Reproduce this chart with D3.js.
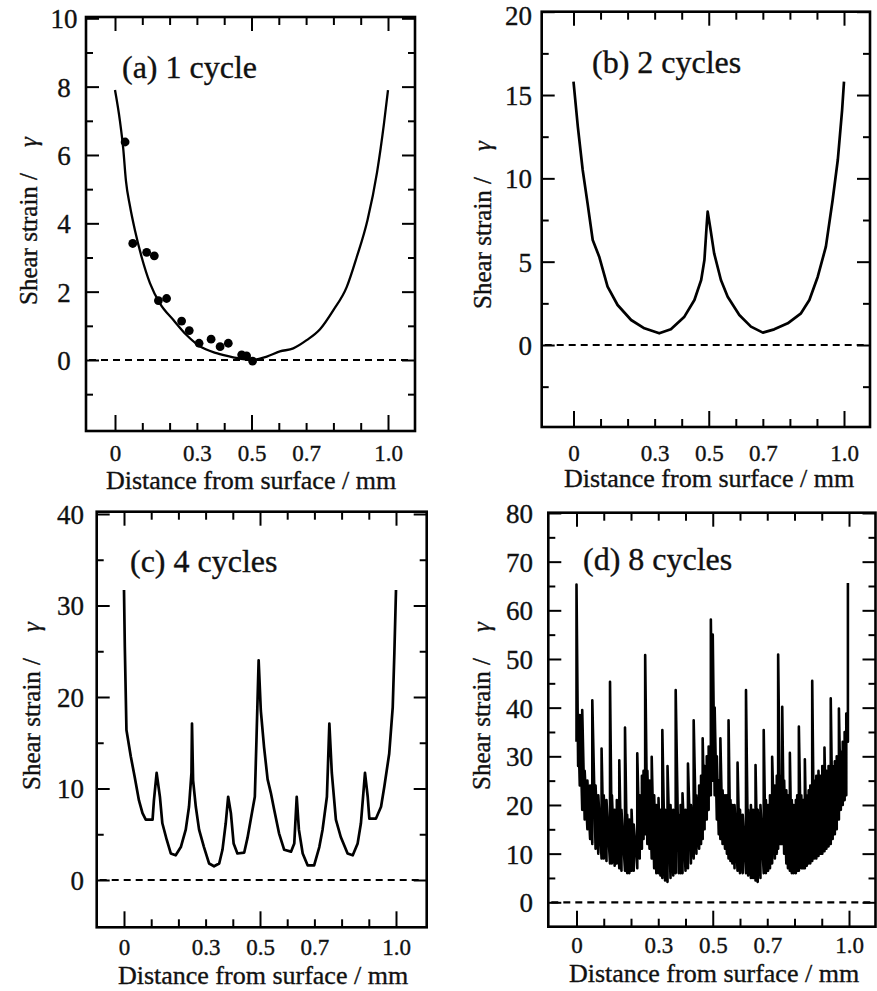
<!DOCTYPE html>
<html>
<head>
<meta charset="utf-8">
<script src="https://cdnjs.cloudflare.com/ajax/libs/d3/7.8.5/d3.min.js"></script>
<style>
body { margin: 0; background: #fff; }
svg text { font-family: "Liberation Serif", "Times New Roman", serif; fill: #111; stroke: #111; stroke-width: 0.35px; }
</style>
</head>
<body>
<div id="chart"></div>
<script>
// distance from surface (mm) vs shear strain
var xLabelTicks = [0, 0.3, 0.5, 0.7, 1.0];
var xMajorTicks = [0, 0.5, 1.0];
var xMinorTicks = [0.1, 0.2, 0.3, 0.4, 0.6, 0.7, 0.8, 0.9];

var cycle1Curve = [[0, 7.9], [0.018, 7.0], [0.03, 6.2], [0.04, 5.25], [0.055, 4.5], [0.073, 3.8],
  [0.098, 3.0], [0.128, 2.25], [0.165, 1.65], [0.214, 1.17], [0.262, 0.73], [0.311, 0.4],
  [0.372, 0.2], [0.433, 0.08], [0.5, 0.0], [0.556, 0.1], [0.604, 0.25], [0.653, 0.34],
  [0.702, 0.58], [0.751, 0.9], [0.8, 1.46], [0.849, 2.14], [0.885, 3.0], [0.925, 4.1],
  [0.96, 5.5], [0.985, 6.9], [1.0, 7.9]];
var cycle1Measured = [[0.037, 6.38], [0.065, 3.41], [0.116, 3.15], [0.144, 3.05], [0.159, 1.74],
  [0.189, 1.8], [0.244, 1.14], [0.272, 0.86], [0.308, 0.49], [0.352, 0.61], [0.385, 0.39],
  [0.415, 0.49], [0.464, 0.15], [0.482, 0.12], [0.504, -0.03]];

var cycle2Curve = [[0, 15.8], [0.016, 13.1], [0.034, 10.5], [0.052, 8.5], [0.071, 6.3], [0.095, 5.3],
  [0.126, 3.5], [0.163, 2.4], [0.213, 1.5], [0.262, 1.0], [0.317, 0.7], [0.36, 0.94], [0.41, 1.7],
  [0.447, 2.7], [0.472, 3.9], [0.484, 5.1], [0.492, 7.1], [0.496, 8.0], [0.505, 7.1], [0.52, 5.5],
  [0.545, 3.9], [0.57, 2.9], [0.613, 1.8], [0.656, 1.1], [0.7, 0.74], [0.742, 0.94], [0.792, 1.3],
  [0.841, 1.9], [0.872, 2.7], [0.903, 4.1], [0.933, 5.9], [0.958, 8.7], [0.977, 11.1],
  [0.993, 14.1], [1.0, 15.8]];

var cycle4Curve = [[0, 31.7], [0.003, 25.5], [0.009, 16.4], [0.025, 13.5], [0.039, 11.3], [0.055, 8.7],
  [0.068, 7.3], [0.08, 6.6], [0.105, 6.6], [0.11, 8.7], [0.12, 11.7], [0.132, 9.1], [0.141, 6.2],
  [0.157, 4.4], [0.172, 2.9], [0.19, 2.7], [0.209, 3.6], [0.227, 5.5], [0.239, 8.0], [0.248, 11.7],
  [0.25, 17.1], [0.254, 10.9], [0.264, 8.0], [0.276, 5.5], [0.294, 3.6], [0.313, 1.8], [0.331, 1.5],
  [0.35, 1.8], [0.362, 3.3], [0.374, 6.2], [0.383, 9.1], [0.393, 7.3], [0.403, 4.0], [0.417, 2.9],
  [0.442, 3.0], [0.454, 4.6], [0.466, 6.6], [0.481, 9.1], [0.487, 15.3], [0.495, 24.0],
  [0.503, 18.5], [0.515, 14.5], [0.528, 11.0], [0.54, 9.5], [0.552, 7.7], [0.57, 5.1], [0.589, 3.3],
  [0.614, 3.1], [0.626, 4.0], [0.635, 9.1], [0.643, 5.5], [0.657, 2.9], [0.675, 1.6], [0.699, 1.6],
  [0.718, 3.6], [0.73, 5.5], [0.746, 9.1], [0.755, 17.1], [0.764, 11.7], [0.779, 6.6], [0.797, 4.7],
  [0.822, 2.9], [0.841, 2.7], [0.859, 4.0], [0.871, 6.2], [0.886, 11.7], [0.896, 9.1], [0.902, 6.7],
  [0.926, 6.7], [0.945, 8.0], [0.957, 10.2], [0.975, 13.8], [0.988, 18.9], [0.994, 24.8], [1.0, 31.7]];

// 8 cycles: [x, trough, crest] for each oscillation of the noisy trace
var cycle8Profile = [[0, 33, 65.3], [0.006, 28, 38], [0.012, 24, 38.5], [0.021, 19, 39.5], [0.03, 17, 27],
  [0.04, 15, 25], [0.05, 13, 24], [0.058, 12, 41.5], [0.07, 11, 24], [0.08, 10, 22], [0.092, 9, 31.6],
  [0.1, 9, 22], [0.11, 8.5, 21], [0.123, 8, 45.3], [0.13, 8, 22], [0.14, 7.5, 19], [0.148, 8, 21],
  [0.157, 7, 29.2], [0.165, 6.5, 19], [0.178, 6.5, 35.9], [0.186, 6, 18], [0.194, 6, 17],
  [0.202, 6.5, 19], [0.21, 6.5, 16], [0.223, 7, 30.6], [0.232, 9, 22], [0.24, 11, 26], [0.246, 13, 27],
  [0.252, 14, 50.8], [0.26, 12, 27], [0.268, 11, 25], [0.276, 9, 29.9], [0.285, 7, 22], [0.293, 6, 20],
  [0.301, 6, 21.4], [0.308, 5.5, 19], [0.315, 5, 35.4], [0.325, 4.5, 19], [0.334, 4.2, 28],
  [0.345, 5, 20], [0.355, 5.5, 19], [0.364, 6, 43.6], [0.375, 6, 18], [0.382, 6, 20], [0.389, 6, 22.4],
  [0.4, 6.5, 19], [0.409, 7, 28.5], [0.42, 8, 20], [0.43, 9, 37.4], [0.44, 10, 22], [0.45, 11, 24],
  [0.457, 12, 26], [0.463, 13, 33.7], [0.47, 15, 28], [0.478, 17, 30], [0.485, 19, 32], [0.493, 22, 58.1],
  [0.5, 25, 55], [0.507, 22, 40], [0.515, 17, 30], [0.522, 14, 25], [0.528, 13, 33.7], [0.536, 12, 23],
  [0.545, 11, 22], [0.552, 10, 22], [0.558, 9, 37.4], [0.565, 8.5, 21], [0.572, 8, 20], [0.58, 7, 20],
  [0.591, 6.5, 28.7], [0.6, 6, 19], [0.61, 6, 18], [0.622, 6, 43.6], [0.63, 5.5, 19], [0.64, 5, 20],
  [0.648, 5, 19], [0.657, 4.5, 28.2], [0.665, 4.2, 19], [0.675, 5, 20], [0.687, 6, 35.4], [0.695, 6, 21],
  [0.703, 6.5, 20], [0.71, 7, 22], [0.718, 8, 29.9], [0.728, 9, 24], [0.735, 10, 26], [0.74, 11, 50.9],
  [0.748, 12, 26], [0.755, 12, 40.2], [0.762, 10, 25], [0.77, 8, 23], [0.776, 7, 22], [0.783, 6.5, 30.7],
  [0.79, 6, 21], [0.797, 6, 20], [0.805, 6, 21], [0.81, 6.5, 22], [0.816, 6.5, 36.1], [0.825, 7, 22],
  [0.832, 7, 21], [0.838, 7, 29.4], [0.845, 7.5, 22], [0.852, 8, 23], [0.858, 8, 24], [0.865, 8.5, 45.5],
  [0.872, 9, 25], [0.88, 9, 26], [0.888, 9.5, 27], [0.895, 10, 26], [0.902, 10, 28], [0.91, 10.5, 31.8],
  [0.917, 11, 27], [0.925, 11.5, 28], [0.933, 12, 41.9], [0.94, 13, 28], [0.948, 14, 29], [0.955, 15, 30],
  [0.963, 17, 39.8], [0.97, 19, 31], [0.977, 20, 33], [0.984, 21, 35], [0.99, 22, 38.8], [0.996, 33, 65.6]];

var yTicks1 = [0, 2, 4, 6, 8, 10], yMinor1 = [-1, 1, 3, 5, 7, 9];
var yTicks2 = [0, 5, 10, 15, 20], yMinor2 = [-2.5, 2.5, 7.5, 12.5, 17.5];
var yTicks4 = [0, 10, 20, 30, 40], yMinor4 = [5, 15, 25, 35];
var yTicks8 = [0, 10, 20, 30, 40, 50, 60, 70, 80], yMinor8 = [5, 15, 25, 35, 45, 55, 65, 75];

var titles = ["(a) 1 cycle", "(b) 2 cycles", "(c) 4 cycles", "(d) 8 cycles"];

var svg = d3.select("#chart").append("svg")
  .attr("width", 877)
  .attr("height", 991);

var panels = [
  {L: 86, R: 415, T: 17, B: 431, x0: 115, x1: 388, yTop: 10, yZeroPx: 360, yTopPx: 18.3,
   ticks: yTicks1, minor: yMinor1, labX: 64, labAnchor: "middle", xLabY: 461, xTitleX: 251, xTitleY: 489,
   yTitleX: 37, yTitleY: 221, titleX: 122, titleY: 78},
  {L: 541.7, R: 870, T: 11.7, B: 427, x0: 573.5, x1: 844, yTop: 20, yZeroPx: 345, yTopPx: 11.7,
   ticks: yTicks2, minor: yMinor2, labX: 532, labAnchor: "end", xLabY: 461, xTitleX: 709, xTitleY: 487,
   yTitleX: 491, yTitleY: 225, titleX: 592, titleY: 73},
  {L: 96.7, R: 426.7, T: 511.7, B: 927.3, x0: 124, x1: 396, yTop: 40, yZeroPx: 880, yTopPx: 514,
   ticks: yTicks4, minor: yMinor4, labX: 84, labAnchor: "end", xLabY: 955, xTitleX: 263, xTitleY: 984,
   yTitleX: 40, yTitleY: 706, titleX: 130, titleY: 572},
  {L: 548.3, R: 875.5, T: 512.7, B: 926.7, x0: 576.5, x1: 849, yTop: 80, yZeroPx: 902.3, yTopPx: 513,
   ticks: yTicks8, minor: yMinor8, labX: 533, labAnchor: "end", xLabY: 953, xTitleX: 714, xTitleY: 982,
   yTitleX: 490, yTitleY: 706, titleX: 583, titleY: 570}
];

function fmtX(d) { return d === 0 ? "0" : d3.format(".1f")(d); }

function tickAxis(g, axis) {
  g.call(axis);
  g.select(".domain").remove();
  g.selectAll("line").attr("stroke", "#000").attr("stroke-width", 2);
  return g;
}

panels.forEach(function(p, i) {
  var g = svg.append("g");
  var x = d3.scaleLinear().domain([0, 1]).range([p.x0, p.x1]);
  var y = d3.scaleLinear().domain([0, p.yTop]).range([p.yZeroPx, p.yTopPx]);

  // inward ticks on all four sides
  var left = tickAxis(g.append("g").attr("transform", "translate(" + p.L + ",0)"),
    d3.axisLeft(y).tickValues(p.ticks).tickSize(-13).tickFormat(d3.format("d")));
  left.selectAll("text")
    .attr("x", p.labX - p.L)
    .attr("y", function(d) { return Math.max(y(d), 15) - y(d); })
    .attr("text-anchor", p.labAnchor)
    .attr("dy", "0.35em")
    .style("font-size", "27px");
  tickAxis(g.append("g").attr("transform", "translate(" + p.L + ",0)"),
    d3.axisLeft(y).tickValues(p.minor).tickSize(-7).tickFormat(""));
  tickAxis(g.append("g").attr("transform", "translate(" + p.R + ",0)"),
    d3.axisRight(y).tickValues(p.ticks).tickSize(-13).tickFormat(""));
  tickAxis(g.append("g").attr("transform", "translate(" + p.R + ",0)"),
    d3.axisRight(y).tickValues(p.minor).tickSize(-7).tickFormat(""));

  tickAxis(g.append("g").attr("transform", "translate(0," + p.B + ")"),
    d3.axisBottom(x).tickValues(xMajorTicks).tickSize(-16).tickFormat(""));
  tickAxis(g.append("g").attr("transform", "translate(0," + p.B + ")"),
    d3.axisBottom(x).tickValues(xMinorTicks).tickSize(-8).tickFormat(""));
  tickAxis(g.append("g").attr("transform", "translate(0," + p.T + ")"),
    d3.axisTop(x).tickValues(xMajorTicks).tickSize(-14).tickFormat(""));
  tickAxis(g.append("g").attr("transform", "translate(0," + p.T + ")"),
    d3.axisTop(x).tickValues(xMinorTicks).tickSize(-8).tickFormat(""));

  var bottomLab = g.append("g").attr("transform", "translate(0," + p.B + ")")
    .call(d3.axisBottom(x).tickValues(xLabelTicks).tickSize(0).tickFormat(fmtX));
  bottomLab.select(".domain").remove();
  bottomLab.selectAll("text")
    .attr("y", p.xLabY - p.B)
    .attr("dy", 0)
    .style("font-size", "23px");

  g.append("rect")
    .attr("x", p.L).attr("y", p.T)
    .attr("width", p.R - p.L).attr("height", p.B - p.T)
    .attr("fill", "none").attr("stroke", "#000").attr("stroke-width", 2.6);

  // zero line
  g.append("line")
    .attr("x1", p.L + 3).attr("x2", p.R - 3)
    .attr("y1", y(0)).attr("y2", y(0))
    .attr("stroke", "#000").attr("stroke-width", 2.2)
    .attr("stroke-dasharray", "7,5");

  var line = d3.line().x(function(d) { return x(d[0]); }).y(function(d) { return y(d[1]); });

  if (i === 0) {
    g.append("path").datum(cycle1Curve).attr("d", line.curve(d3.curveMonotoneX))
      .attr("fill", "none").attr("stroke", "#000").attr("stroke-width", 2.3);
    g.selectAll("circle").data(cycle1Measured).enter().append("circle")
      .attr("cx", function(d) { return x(d[0]); })
      .attr("cy", function(d) { return y(d[1]); })
      .attr("r", 4.4)
      .attr("fill", "#000");
  } else if (i === 1) {
    g.append("path").datum(cycle2Curve).attr("d", line)
      .attr("fill", "none").attr("stroke", "#000").attr("stroke-width", 2.7)
      .attr("stroke-linejoin", "round");
  } else if (i === 2) {
    g.append("path").datum(cycle4Curve).attr("d", line)
      .attr("fill", "none").attr("stroke", "#000").attr("stroke-width", 2.7)
      .attr("stroke-linejoin", "round");
  } else {
    var pts = [];
    cycle8Profile.forEach(function(r) { pts.push([r[0], r[1]]); pts.push([r[0], r[2]]); });
    g.append("path").datum(pts).attr("d", line)
      .attr("fill", "none").attr("stroke", "#000").attr("stroke-width", 2.6)
      .attr("stroke-linejoin", "round");
  }

  g.append("text")
    .attr("x", p.titleX).attr("y", p.titleY)
    .style("font-size", "32px")
    .text(titles[i]);

  g.append("text")
    .attr("x", p.xTitleX).attr("y", p.xTitleY)
    .attr("text-anchor", "middle")
    .style("font-size", "26px")
    .text("Distance from surface / mm");

  var yt = g.append("text")
    .attr("transform", "translate(" + p.yTitleX + "," + p.yTitleY + ") rotate(-90)")
    .attr("text-anchor", "middle")
    .style("font-size", "25px");
  yt.append("tspan").text("Shear strain /");
  yt.append("tspan").attr("dx", 26).style("font-style", "italic").text("γ");
});
</script>
</body>
</html>
